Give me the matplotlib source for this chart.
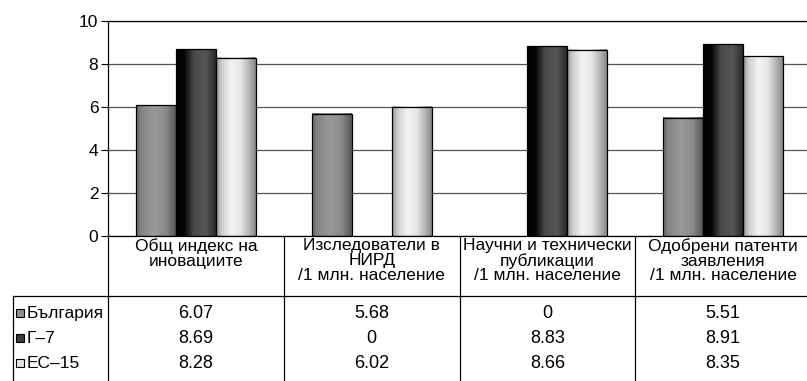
import numpy as np
import matplotlib.pyplot as plt
from matplotlib import transforms
from matplotlib.colors import LinearSegmentedColormap
from matplotlib.lines import Line2D
from matplotlib.patches import Rectangle

categories = [
    "Общ индекс на\nиновациите",
    "Изследователи в\nНИРД\n/1 млн. население",
    "Научни и технически\nпубликации\n/1 млн. население",
    "Одобрени патенти\nзаявления\n/1 млн. население",
]
series_names = ["България", "Г–7", "ЕС–15"]
bulgaria = [6.07, 5.68, 0, 5.51]
g7 = [8.69, 0, 8.83, 8.91]
eu15 = [8.28, 6.02, 8.66, 8.35]
yticks = [0, 2, 4, 6, 8, 10]

plt.rcParams["font.family"] = ["Liberation Sans", "DejaVu Sans"]

# cylinder-like shading across each bar, left to right
shading = [
    [(0, "#666666"), (0.12, "#838383"), (0.45, "#9a9a9a"), (0.75, "#8a8a8a"), (1, "#575757")],
    [(0, "#000000"), (0.2, "#050505"), (0.45, "#4a4a4a"), (0.75, "#565656"), (1, "#2a2a2a")],
    [(0, "#969696"), (0.15, "#d0d0d0"), (0.38, "#f3f3f3"), (0.62, "#e6e6e6"), (0.85, "#b0b0b0"), (1, "#858585")],
]
swatch_colors = ["#8e8e8e", "#3c3c3c", "#e2e2e2"]

W, H = 807, 381


def fx(px):
    return px / W


def fy(py):
    return 1 - py / H


fig = plt.figure(figsize=(W / 100, H / 100), dpi=100)
ax = fig.add_axes([fx(108), fy(236), 703 / W, 215 / H])

x = np.arange(len(categories))
width = 0.2275
grad = np.linspace(0, 1, 256).reshape(1, -1)

for i, vals in enumerate([bulgaria, g7, eu15]):
    cmap = LinearSegmentedColormap.from_list(f"shade{i}", shading[i])
    bars = ax.bar(x + (i - 1) * width, vals, width, color="none",
                  edgecolor="black", linewidth=0.9, zorder=3)
    for patch, v in zip(bars, vals):
        if v == 0:
            patch.set_visible(False)
            continue
        x0 = patch.get_x()
        ax.imshow(grad, cmap=cmap, extent=(x0, x0 + patch.get_width(), 0, v),
                  aspect="auto", interpolation="bilinear", zorder=2)

ax.set_xlim(-0.5, len(categories) - 0.5)
ax.set_ylim(0, 10)
ax.set_yticks(yticks)
ax.set_xticks([])
ax.yaxis.grid(True, color="#555555", linewidth=0.9)
ax.set_axisbelow(True)
ax.tick_params(axis="y", length=5, width=0.8, pad=2, labelsize=12.5)
for s in ax.spines.values():
    s.set_color("black")
    s.set_linewidth(0.9)

# data table under the axes
trans = transforms.blended_transform_factory(ax.transData, fig.transFigure)
for k in range(len(categories) + 1):
    fig.add_artist(Line2D([k - 0.5, k - 0.5], [fy(236), 0], transform=trans,
                          color="black", linewidth=0.9))
fig.add_artist(Line2D([fx(13), 1], [fy(296), fy(296)], transform=fig.transFigure,
                      color="black", linewidth=0.9))
fig.add_artist(Line2D([fx(13), fx(13)], [fy(296), 0], transform=fig.transFigure,
                      color="black", linewidth=0.9))

for k, label in enumerate(categories):
    fig.text(k, fy(238), label, transform=trans, ha="center", va="top",
             fontsize=12.5, linespacing=0.98)

row_base = [318, 343, 368]
for i, vals in enumerate([bulgaria, g7, eu15]):
    yb = fy(row_base[i])
    fig.add_artist(Rectangle((fx(16), fy(row_base[i] - 1)), 8 / W, 8 / H,
                             transform=fig.transFigure, facecolor=swatch_colors[i],
                             edgecolor="black", linewidth=0.8))
    fig.text(fx(27), yb, series_names[i], ha="left", va="baseline", fontsize=12.5)
    for k, v in enumerate(vals):
        txt = "0" if v == 0 else f"{v:.2f}"
        fig.text(k, yb, txt, transform=trans, ha="center", va="baseline", fontsize=13)

fig.savefig("out.png", dpi=100)
